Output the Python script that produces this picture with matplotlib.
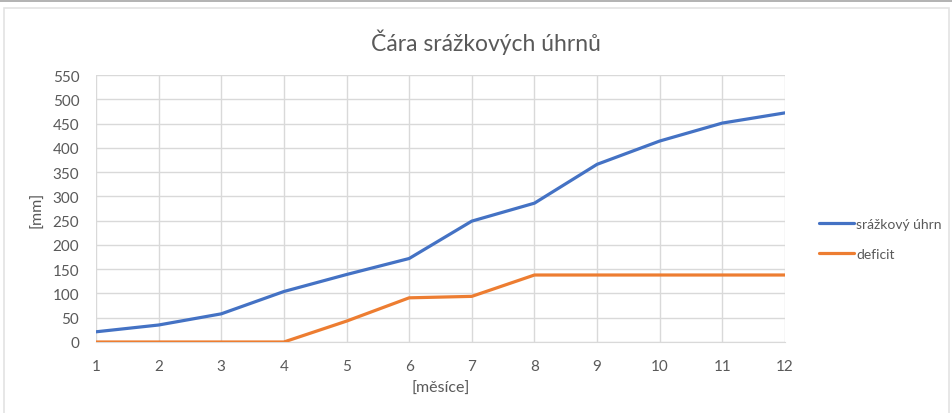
import matplotlib.pyplot as plt
from matplotlib.patches import Rectangle

months = [1, 2, 3, 4, 5, 6, 7, 8, 9, 10, 11, 12]
srazkovy_uhrn = [21, 35, 58, 104, 139, 172, 249, 286, 366, 414, 451, 472]
deficit = [0, 0, 0, 0, 43, 91, 94, 138, 138, 138, 138, 138]
y_ticks = list(range(0, 551, 50))

text_color = "#595959"
grid_color = "#d9d9d9"
plt.rcParams["font.family"] = ["Lato", "DejaVu Sans"]

fig = plt.figure(figsize=(9.53, 4.14), dpi=100)
# chart frame like in the spreadsheet export
fig.add_artist(plt.Line2D([0, 1], [0.995, 0.995], transform=fig.transFigure,
                          color="#a6a6a6", lw=1.2))
fig.add_artist(Rectangle((0.004, -0.01), 0.992, 0.988, transform=fig.transFigure,
                         fill=False, edgecolor="#e3e3e3", lw=1.2))

ax = fig.add_axes([0.1007, 0.1715, 0.7230, 0.6449])
ax.plot(months, srazkovy_uhrn, color="#4472C4", lw=2.3, label="srážkový úhrn",
        solid_capstyle="round", zorder=3)
ax.plot(months, deficit, color="#ED7D31", lw=2.3, label="deficit",
        solid_capstyle="round", zorder=3)

ax.set_xlim(1, 12)
ax.set_ylim(0, 550)
ax.set_xticks(months)
ax.set_yticks(y_ticks)
ax.grid(True, color=grid_color, lw=1.0)
for side in ["top", "right", "left"]:
    ax.spines[side].set_visible(False)
ax.spines["bottom"].set_color(grid_color)
ax.tick_params(axis="y", length=0, colors=text_color, labelsize=11, pad=12)
ax.tick_params(axis="x", length=0, colors=text_color, labelsize=11, pad=12)

fig.text(0.51, 0.898, "Čára srážkových úhrnů", color=text_color, fontsize=16.5,
         ha="center", va="center")
fig.text(0.4625, 0.061, "[měsíce]", color=text_color, fontsize=11.5,
         ha="center", va="center")
fig.text(0.039, 0.493, "[mm]", color=text_color, fontsize=11.5,
         ha="center", va="center", rotation=90)

leg = ax.legend(loc="center left", bbox_to_anchor=(1.031, 0.385), frameon=False,
                fontsize=10, handlelength=2.5, handletextpad=0.2,
                labelspacing=1.3)
for t in leg.get_texts():
    t.set_color(text_color)

fig.savefig("out.png", dpi=100)
